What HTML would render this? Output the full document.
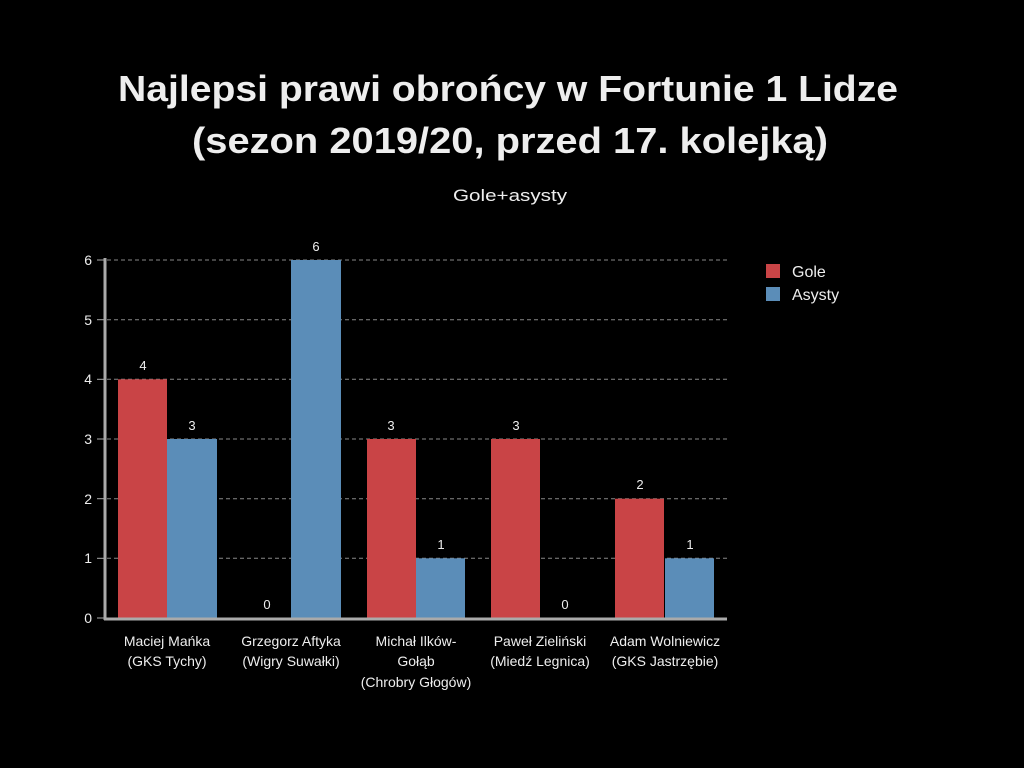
<!DOCTYPE html>
<html><head><meta charset="utf-8"><style>
html,body{margin:0;padding:0;background:#000;width:1024px;height:768px;overflow:hidden}
svg{display:block}
text{font-family:"Liberation Sans",sans-serif;fill:#eee}
</style></head><body>
<svg width="1024" height="768" viewBox="0 0 1024 768">
<rect width="1024" height="768" fill="#000"/>
<text x="508" y="101" font-size="36" font-weight="bold" text-anchor="middle" textLength="780" lengthAdjust="spacingAndGlyphs" fill="#fff">Najlepsi prawi obrońcy w Fortunie 1 Lidze</text>
<text x="510" y="153" font-size="36" font-weight="bold" text-anchor="middle" textLength="636" lengthAdjust="spacingAndGlyphs" fill="#fff">(sezon 2019/20, przed 17. kolejką)</text>
<text x="510" y="201" font-size="17" text-anchor="middle" textLength="114" lengthAdjust="spacingAndGlyphs">Gole+asysty</text>
<g stroke="#888" stroke-dasharray="4,3" stroke-width="1">
<line x1="107" y1="260" x2="727" y2="260"/>
<line x1="107" y1="319.7" x2="727" y2="319.7"/>
<line x1="107" y1="379.3" x2="727" y2="379.3"/>
<line x1="107" y1="439" x2="727" y2="439"/>
<line x1="107" y1="498.7" x2="727" y2="498.7"/>
<line x1="107" y1="558.3" x2="727" y2="558.3"/>
</g>
<g stroke="#aaa" stroke-width="1">
<line x1="97" y1="260" x2="105" y2="260"/><line x1="97" y1="319.7" x2="105" y2="319.7"/>
<line x1="97" y1="379.3" x2="105" y2="379.3"/><line x1="97" y1="439" x2="105" y2="439"/>
<line x1="97" y1="498.7" x2="105" y2="498.7"/><line x1="97" y1="558.3" x2="105" y2="558.3"/>
<line x1="97" y1="618" x2="105" y2="618"/>
</g>
<g font-size="14" text-anchor="end">
<text x="92" y="265">6</text><text x="92" y="325">5</text><text x="92" y="384">4</text>
<text x="92" y="444">3</text><text x="92" y="504">2</text><text x="92" y="563">1</text><text x="92" y="623">0</text>
</g>
<g fill="#c94446">
<rect x="118" y="379.3" width="49" height="238.7"/>
<rect x="367" y="439" width="49" height="179"/>
<rect x="491" y="439" width="49" height="179"/>
<rect x="615" y="498.7" width="49" height="119.3"/>
</g>
<g fill="#5b8db8">
<rect x="167" y="439" width="50" height="179"/>
<rect x="291" y="260" width="50" height="358"/>
<rect x="416" y="558.3" width="49" height="59.7"/>
<rect x="665" y="558.3" width="49" height="59.7"/>
</g>
<line x1="105" y1="258" x2="105" y2="620" stroke="#aaa" stroke-width="3"/>
<line x1="104" y1="619" x2="727" y2="619" stroke="#aaa" stroke-width="3"/>
<g font-size="13" text-anchor="middle">
<text x="143" y="370">4</text><text x="192" y="430">3</text>
<text x="267" y="609">0</text><text x="316" y="251">6</text>
<text x="391" y="430">3</text><text x="441" y="549">1</text>
<text x="516" y="430">3</text><text x="565" y="609">0</text>
<text x="640" y="489">2</text><text x="690" y="549">1</text>
</g>
<g font-size="14" text-anchor="middle">
<text x="167" y="646">Maciej Mańka</text><text x="167" y="666">(GKS Tychy)</text>
<text x="291" y="646">Grzegorz Aftyka</text><text x="291" y="666">(Wigry Suwałki)</text>
<text x="416" y="646">Michał Ilków-</text><text x="416" y="666">Gołąb</text><text x="416" y="687">(Chrobry Głogów)</text>
<text x="540" y="646">Paweł Zieliński</text><text x="540" y="666">(Miedź Legnica)</text>
<text x="665" y="646">Adam Wolniewicz</text><text x="665" y="666">(GKS Jastrzębie)</text>
</g>
<rect x="766" y="264" width="14" height="14" fill="#c94446"/>
<rect x="766" y="287" width="14" height="14" fill="#5b8db8"/>
<text x="792" y="277" font-size="16">Gole</text>
<text x="792" y="300" font-size="16">Asysty</text>
</svg>
</body></html>
